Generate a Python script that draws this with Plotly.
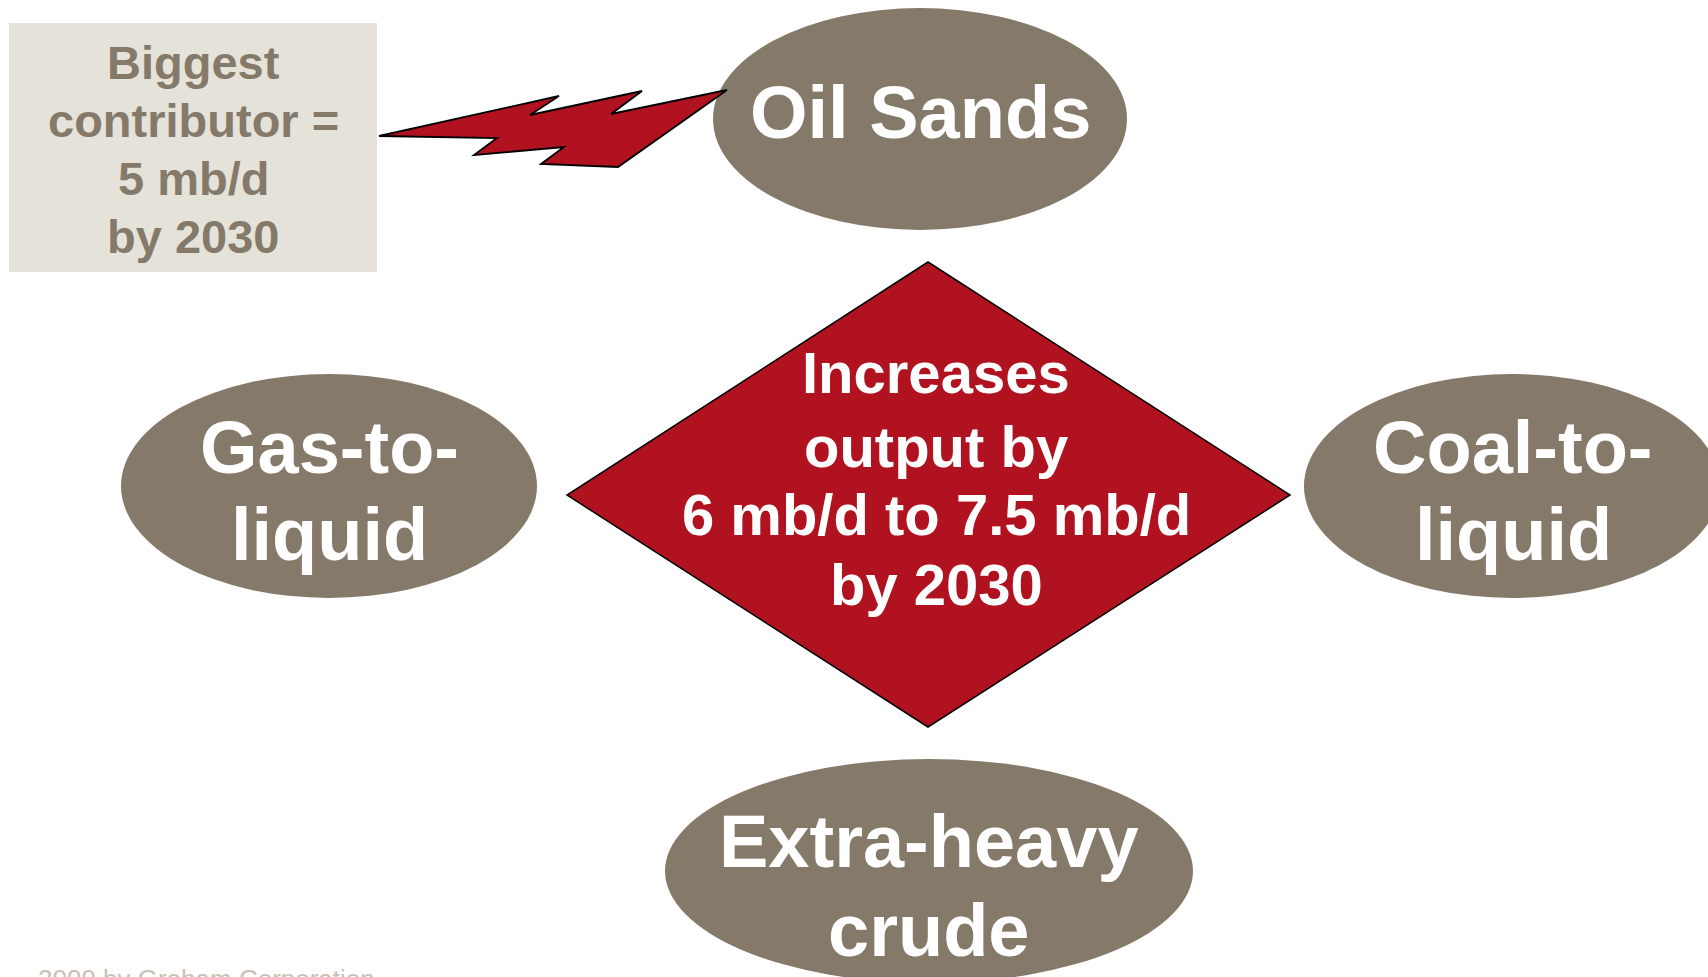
import plotly.graph_objects as go

W, H = 1708, 977

# ---- content (labels) ----
box_lines = ["Biggest", "contributor =", "5 mb/d", "by 2030"]
center_lines = ["Increases", "output by", "6 mb/d to 7.5 mb/d", "by 2030"]
node_names = ["Oil Sands", "Gas-to-liquid", "Coal-to-liquid", "Extra-heavy crude"]
node_lines = [["Oil Sands"], ["Gas-to-", "liquid"], ["Coal-to-", "liquid"], ["Extra-heavy", "crude"]]
footer = "2009 by Graham Corporation"

# ---- geometry (pixels) ----
node_geom = [  # cx, cy, rx, ry
    (920, 119, 207, 111),
    (329, 486, 208, 112),
    (1512, 486, 208, 112),
    (929, 871, 264, 112),
]
node_line_y = [[112], [447, 534], [447, 534], [841, 930]]
node_line_x = [920, 329, 1513, 929]

diamond = [(928, 262), (1290, 495), (928, 727), (567, 495)]
bolt = [(379, 136), (559, 96), (530, 115), (642, 91), (611, 114), (727, 90),
        (618, 167), (541, 164), (564, 147), (474, 155), (497, 138)]
box = (9, 23, 377, 272)
box_line_y = [62, 120, 178, 236]
center_line_y = [372, 446, 514, 584]

TAUPE = "#857a69"
RED = "#b1121f"
BOXBG = "#e5e2da"
FONT = "Liberation Sans"

fig = go.Figure()
fig.add_trace(go.Scatter(x=[0, W], y=[0, H], mode="markers", marker=dict(opacity=0), hoverinfo="skip", showlegend=False))

shapes = []
shapes.append(dict(type="rect", xref="x", yref="y", x0=box[0], y0=box[1], x1=box[2], y1=box[3],
                   fillcolor=BOXBG, line=dict(width=0), layer="below"))
for (cx, cy, rx, ry) in node_geom:
    shapes.append(dict(type="circle", xref="x", yref="y", x0=cx - rx, x1=cx + rx, y0=cy - ry, y1=cy + ry,
                       fillcolor=TAUPE, line=dict(width=0), layer="above"))
def path_of(pts):
    return "M " + " L ".join(f"{x},{y}" for x, y in pts) + " Z"
shapes.append(dict(type="path", xref="x", yref="y", path=path_of(diamond), fillcolor=RED,
                   line=dict(color="black", width=1.5), layer="above"))
shapes.append(dict(type="path", xref="x", yref="y", path=path_of(bolt), fillcolor=RED,
                   line=dict(color="black", width=1.8), layer="above"))

ann = []
for t, y in zip(box_lines, box_line_y):
    ann.append(dict(x=193, y=y, xref="x", yref="y", text=f"<b>{t}</b>", showarrow=False,
                    xanchor="center", yanchor="middle", font=dict(family=FONT, size=47, color=TAUPE)))
for t, y in zip(center_lines, center_line_y):
    ann.append(dict(x=936, y=y, xref="x", yref="y", text=f"<b>{t}</b>", showarrow=False,
                    xanchor="center", yanchor="middle", font=dict(family=FONT, size=58, color="white")))
for lines, ys, x in zip(node_lines, node_line_y, node_line_x):
    for t, y in zip(lines, ys):
        ann.append(dict(x=x, y=y, xref="x", yref="y", text=f"<b>{t}</b>", showarrow=False,
                        xanchor="center", yanchor="middle", font=dict(family=FONT, size=74, color="white")))
ann.append(dict(x=36, y=962, xref="x", yref="y", text=footer, showarrow=False,
                xanchor="left", yanchor="top", font=dict(family=FONT, size=26, color="#c9c1b6")))

fig.update_layout(
    width=W, height=H, autosize=False,
    margin=dict(l=0, r=0, t=0, b=0, pad=0),
    paper_bgcolor="white", plot_bgcolor="white",
    xaxis=dict(range=[0, W], visible=False, fixedrange=True),
    yaxis=dict(range=[H, 0], visible=False, fixedrange=True),
    shapes=shapes, annotations=ann, showlegend=False,
)
fig.write_html("out.html", config={"displayModeBar": False},
               post_script="document.body.style.margin='0';document.body.style.overflow='hidden';")
